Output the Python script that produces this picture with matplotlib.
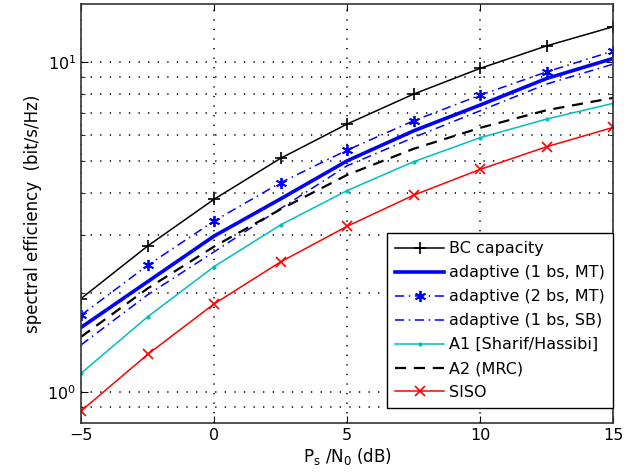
import matplotlib
matplotlib.use('Agg')
import matplotlib.pyplot as plt
import numpy as np

# SNR axis (dB)
snr = [-5, -2.5, 0, 2.5, 5, 7.5, 10, 12.5, 15]

bc_capacity = [1.92, 2.77, 3.84, 5.11, 6.49, 8.0, 9.57, 11.2, 12.8]
adapt_1bs_mt = [1.57, 2.16, 2.97, 3.85, 5.02, 6.19, 7.41, 8.92, 10.26]
adapt_2bs_mt = [1.71, 2.42, 3.30, 4.31, 5.41, 6.64, 7.94, 9.34, 10.8]
adapt_1bs_sb = [1.39, 1.97, 2.66, 3.60, 4.85, 5.91, 7.12, 8.58, 9.86]
a1_sharif = [1.14, 1.69, 2.40, 3.21, 4.08, 4.99, 5.90, 6.72, 7.50]
a2_mrc = [1.47, 2.06, 2.76, 3.58, 4.55, 5.46, 6.32, 7.15, 7.79]
siso = [0.876, 1.30, 1.85, 2.48, 3.18, 3.95, 4.73, 5.54, 6.34]

fig = plt.figure(figsize=(6.38, 4.76), dpi=100)
ax = fig.add_axes([0.127, 0.111, 0.834, 0.8806])

asterisk = (6, 2, 0)
ax.semilogy(snr, bc_capacity, 'k-', marker='+', ms=8, lw=1.1, mew=1.2, label='BC capacity')
ax.semilogy(snr, adapt_1bs_mt, '-', color='b', lw=2.6, label='adaptive (1 bs, MT)')
ax.semilogy(snr, adapt_2bs_mt, color='b', ls=(0, (6, 3, 1, 3)), marker=asterisk, ms=8, mew=1.3,
            lw=1.1, label='adaptive (2 bs, MT)')
ax.semilogy(snr, adapt_1bs_sb, color='b', ls=(0, (6, 3, 1, 3)), lw=1.1, label='adaptive (1 bs, SB)')
ax.semilogy(snr, a1_sharif, '-', color='c', marker='.', ms=4, lw=1.1, label='A1 [Sharif/Hassibi]')
ax.semilogy(snr, a2_mrc, color='k', lw=1.6, ls=(0, (5, 3.5)), label='A2 (MRC)')
ax.semilogy(snr, siso, '-', color='r', marker='x', ms=6.5, lw=1.1, mew=1.2, label='SISO')

ax.set_xlim(-5, 15)
ax.set_ylim(0.805, 15.0)
ax.set_xticks([-5, 0, 5, 10, 15])
ax.set_xticklabels(['\u22125', '0', '5', '10', '15'])

grid_style = dict(linestyle=(0, (0.8, 5.2)), color='k', lw=1.15)
ax.grid(True, which='major', **grid_style)
ax.grid(True, which='minor', axis='y', **grid_style)
ax.tick_params(which='both', direction='in', top=True, right=True, labelsize=11.5)
ax.tick_params(which='major', length=5)
ax.tick_params(which='minor', length=3)
ax.yaxis.set_minor_formatter(matplotlib.ticker.NullFormatter())
for s in ax.spines.values():
    s.set_color('#333333')
    s.set_linewidth(1.2)

ax.set_xlabel(r'P$_\mathregular{s}$ /N$_\mathregular{0}$ (dB)', fontsize=12, labelpad=2)
ax.set_ylabel('spectral efficiency  (bit/s/Hz)', fontsize=12, labelpad=4)

leg = ax.legend(loc='lower right', bbox_to_anchor=(1.0, 0.036), numpoints=1, fontsize=11.5,
                handlelength=3.1, fancybox=False, framealpha=1, edgecolor='k', borderaxespad=0,
                labelspacing=0.56, handletextpad=0.3, borderpad=0.5)
leg.get_frame().set_linewidth(1.0)

fig.savefig('out.png', dpi=100)
